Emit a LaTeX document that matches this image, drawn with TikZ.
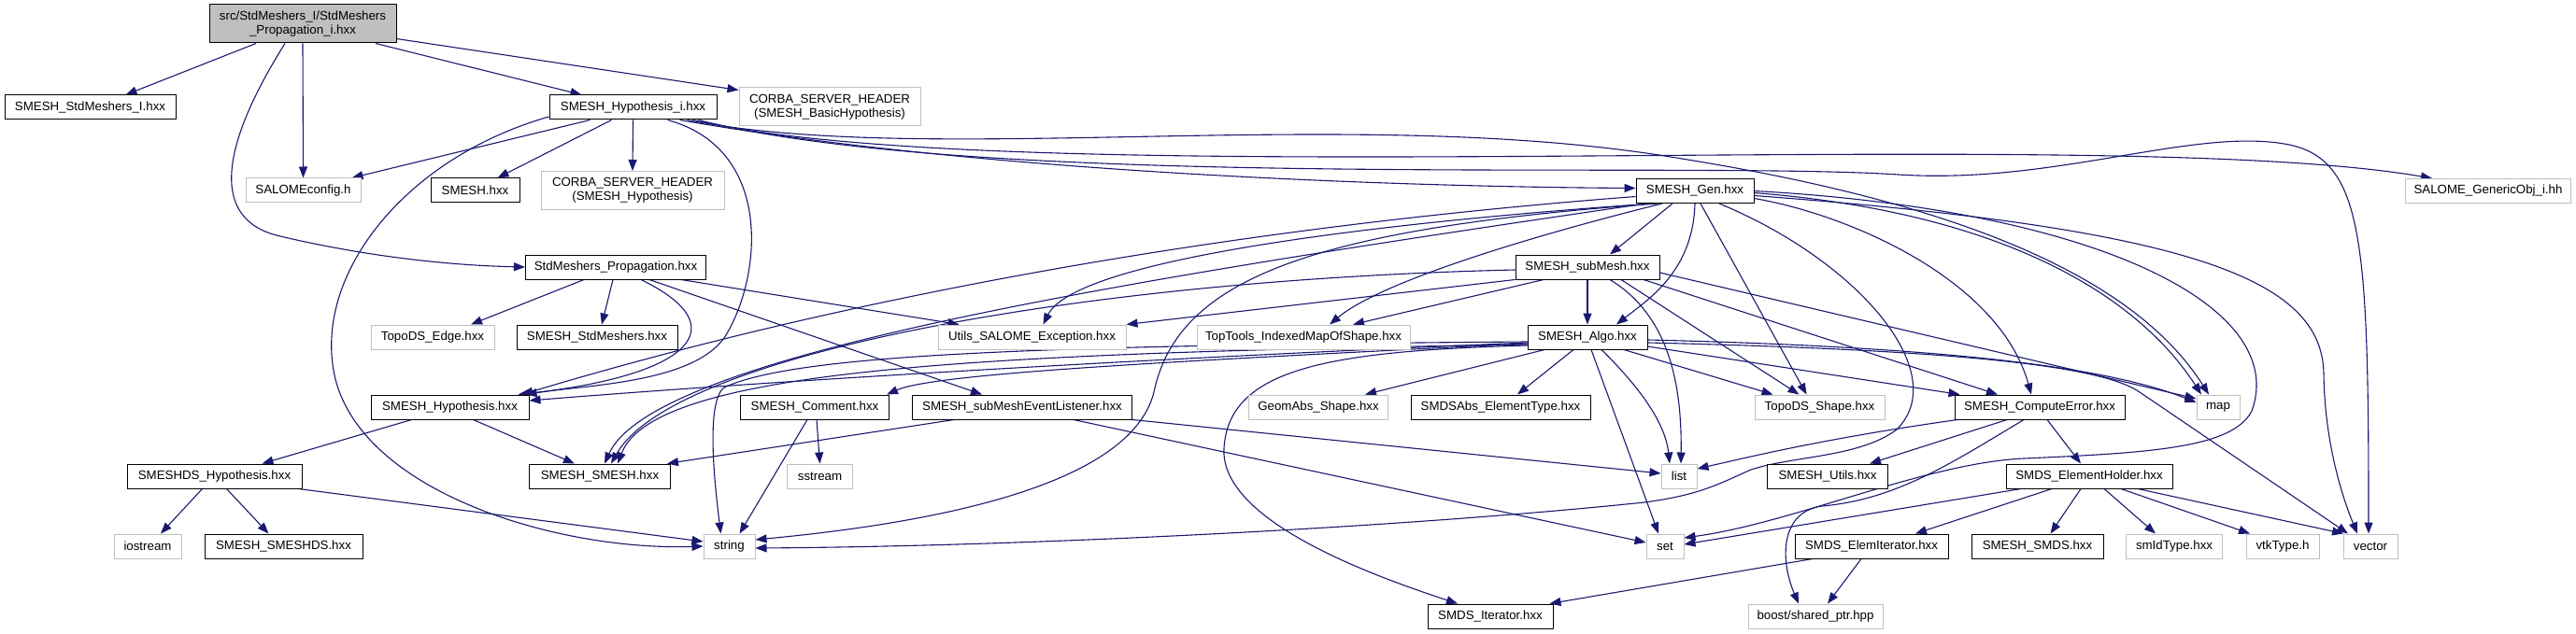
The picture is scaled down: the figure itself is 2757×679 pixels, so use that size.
\documentclass[tikz,border=0pt]{standalone}
\usepackage{fontspec}
\newfontfamily\dotfont{Liberation Sans}
\usetikzlibrary{arrows.meta,backgrounds}
\definecolor{edgeblue}{HTML}{191970}
\definecolor{grey75}{HTML}{BFBFBF}
\tikzset{
  file/.style={draw=black, line width=1pt, fill=white, inner sep=0pt, minimum height=26,
    align=center, font={\dotfont\fontsize{13.3}{15}\selectfont}},
  sysfile/.style={file, draw=grey75},
  dep/.style={draw=edgeblue, line width=1.1pt, -{Triangle[length=12pt,width=9pt]}},
}
\begin{document}
\begin{tikzpicture}[x=1pt, y=-1pt]
            \useasboundingbox (0,0) rectangle (2757,679);
            \node[file, fill=grey75, minimum width=200, minimum height=41] (root) at (324,25.5) {src/StdMeshers\_I/StdMeshers\\\_Propagation\_i.hxx};
            \node[file, minimum width=183] (smi) at (96.5,115) {SMESH\_StdMeshers\_I.hxx};
            \node[file, minimum width=179] (hypi) at (677.5,115) {SMESH\_Hypothesis\_i.hxx};
            \node[sysfile, minimum width=194, minimum height=41] (corbabh) at (888,114.5) {CORBA\_SERVER\_HEADER\\(SMESH\_BasicHypothesis)};
            \node[sysfile, minimum width=123] (salcfg) at (324.5,204) {SALOMEconfig.h};
            \node[file, minimum width=95] (smesh) at (508.5,204) {SMESH.hxx};
            \node[sysfile, minimum width=196, minimum height=41] (corbah) at (677,204) {CORBA\_SERVER\_HEADER\\(SMESH\_Hypothesis)};
            \node[file, minimum width=126] (gen) at (1814,204.5) {SMESH\_Gen.hxx};
            \node[sysfile, minimum width=177] (genobj) at (2663,204.5) {SALOME\_GenericObj\_i.hh};
            \node[file, minimum width=193] (prop) at (659,286) {StdMeshers\_Propagation.hxx};
            \node[file, minimum width=154] (submesh) at (1699,286) {SMESH\_subMesh.hxx};
            \node[sysfile, minimum width=132] (topoedge) at (463,361) {TopoDS\_Edge.hxx};
            \node[file, minimum width=172] (stdmesh) at (639,361) {SMESH\_StdMeshers.hxx};
            \node[sysfile, minimum width=201] (utilsexc) at (1104.5,361) {Utils\_SALOME\_Exception.hxx};
            \node[sysfile, minimum width=228] (toptools) at (1395,361) {TopTools\_IndexedMapOfShape.hxx};
            \node[file, minimum width=128] (algo) at (1699,361) {SMESH\_Algo.hxx};
            \node[file, minimum width=169] (hyp) at (481.5,436) {SMESH\_Hypothesis.hxx};
            \node[file, minimum width=159] (comment) at (872,436) {SMESH\_Comment.hxx};
            \node[file, minimum width=235] (listener) at (1094,436) {SMESH\_subMeshEventListener.hxx};
            \node[sysfile, minimum width=149] (geomabs) at (1411,436) {GeomAbs\_Shape.hxx};
            \node[file, minimum width=192] (elemtype) at (1606,436) {SMDSAbs\_ElementType.hxx};
            \node[sysfile, minimum width=139] (toposhape) at (1947.5,436) {TopoDS\_Shape.hxx};
            \node[file, minimum width=182] (comperr) at (2183,436) {SMESH\_ComputeError.hxx};
            \node[sysfile, minimum width=46] (stdmap) at (2374,436) {map};
            \node[file, minimum width=187] (dshyp) at (229.5,510) {SMESHDS\_Hypothesis.hxx};
            \node[file, minimum width=151] (smeshmesh) at (642,510) {SMESH\_SMESH.hxx};
            \node[sysfile, minimum width=70] (sstream) at (877.5,510) {sstream};
            \node[sysfile, minimum width=38] (stdlist) at (1797,510) {list};
            \node[file, minimum width=129] (utilsh) at (1956,510) {SMESH\_Utils.hxx};
            \node[file, minimum width=178] (holder) at (2236,510) {SMDS\_ElementHolder.hxx};
            \node[sysfile, minimum width=72] (iostream) at (158,585) {iostream};
            \node[file, minimum width=169] (smeshds) at (303.5,585) {SMESH\_SMESHDS.hxx};
            \node[sysfile, minimum width=55] (stdstring) at (780.5,585) {string};
            \node[sysfile, minimum width=40] (stdset) at (1782,585) {set};
            \node[file, minimum width=164] (elemit) at (2003,585) {SMDS\_ElemIterator.hxx};
            \node[file, minimum width=141] (smds) at (2180.5,585) {SMESH\_SMDS.hxx};
            \node[sysfile, minimum width=103] (smid) at (2327,585) {smIdType.hxx};
            \node[sysfile, minimum width=78] (vtktype) at (2443,585) {vtkType.h};
            \node[sysfile, minimum width=58] (stdvector) at (2537,585) {vector};
            \node[file, minimum width=134] (iter) at (1595,660) {SMDS\_Iterator.hxx};
            \node[sysfile, minimum width=144] (boostptr) at (1943,660) {boost/shared\_ptr.hpp};
            \begin{scope}[on background layer]
            \draw[dep] ([xshift=-50]root.south) -- ([xshift=38]smi.north);
            \draw[dep] (root.south) -- (salcfg.north);
            \draw[dep] ([xshift=78]root.south) -- ([xshift=-55]hypi.north);
            \draw[dep] ([yshift=5]root.south east) -- ([yshift=-3]corbabh.north west);
            \draw[dep] ([xshift=-19]root.south) .. controls (240,150) and (220,235) .. (300,253) .. controls (380,272) and (470,284) .. (prop.west);
            \draw[dep] ([xshift=-46]hypi.south) -- ([xshift=52]salcfg.north);
            \draw[dep] ([xshift=-23]hypi.south) -- ([xshift=24]smesh.north);
            \draw[dep] (hypi.south) -- (corbah.north);
            \draw[dep] ([xshift=37]hypi.south) .. controls (830,160) and (815,300) .. (775,362) .. controls (740,410) and (630,412) .. ([xshift=-4]hyp.north east);
            \draw[dep] ([yshift=-10]hypi.west) .. controls (430,170) and (330,300) .. (360,410) .. controls (395,530) and (600,590) .. (stdstring.west);
            \draw[dep] ([xshift=50]hypi.south) .. controls (1050,185) and (1500,200) .. ([yshift=3]gen.west);
            \draw[dep] ([xshift=58]hypi.south) .. controls (1000,180) and (1450,110) .. (1800,170) .. controls (2080,215) and (2280,290) .. ([xshift=-10]stdmap.north);
            \draw[dep] ([xshift=64]hypi.south) .. controls (1100,210) and (2250,130) .. ([xshift=-60]genobj.north);
            \draw[dep] ([xshift=70]hypi.south) .. controls (1050,205) and (1800,172) .. (2032,187) .. controls (2200,198) and (2350,135) .. (2450,155) .. controls (2530,172) and (2535,260) .. ([xshift=-2]stdvector.north);
            \draw[dep] ([xshift=-34]prop.south) -- ([xshift=41]topoedge.north);
            \draw[dep] ([xshift=-3]prop.south) -- ([xshift=5]stdmesh.north);
            \draw[dep] ([xshift=27]prop.south) .. controls (790,350) and (740,402) .. ([xshift=-12]hyp.north east);
            \draw[dep] ([xshift=70]prop.south) -- ([xshift=-78]utilsexc.north);
            \draw[dep] ([xshift=36]prop.south) -- ([xshift=-43]listener.north);
            \draw[dep] ([yshift=-6]gen.west) .. controls (1300,245) and (900,320) .. ([xshift=-8]hyp.north east);
            \draw[dep] ([xshift=-52]gen.south) .. controls (1200,300) and (700,380) .. ([xshift=5]smeshmesh.north);
            \draw[dep] ([xshift=-40]gen.south) .. controls (1400,245) and (1260,300) .. (1235,420) .. controls (1210,520) and (1000,560) .. ([yshift=7]stdstring.east);
            \draw[dep] ([xshift=-45]gen.south) .. controls (1450,240) and (1150,280) .. ([xshift=12]utilsexc.north);
            \draw[dep] ([xshift=-35]gen.south) .. controls (1650,250) and (1480,300) .. ([xshift=28]toptools.north);
            \draw[dep] ([xshift=-24]gen.south) -- ([xshift=24]submesh.north);
            \draw[dep] (gen.south) .. controls (1812,290) and (1765,320) .. ([xshift=31]algo.north);
            \draw[dep] ([xshift=6]gen.south) -- ([xshift=-14]toposhape.north);
            \draw[dep] ([xshift=26]gen.south) .. controls (1990,280) and (2090,400) .. (2030,460) .. controls (1990,490) and (1920,488) .. (1874,503) .. controls (1840,518) and (1820,530) .. (1760,538) .. controls (1500,565) and (1100,585) .. ([yshift=-2]stdstring.east);
            \draw[dep] ([yshift=-8]gen.east) .. controls (1980,230) and (2140,300) .. ([xshift=-9]comperr.north);
            \draw[dep] ([yshift=-2]gen.east) .. controls (2150,228) and (2290,320) .. ([xshift=-18]stdmap.north);
            \draw[dep] ([yshift=-5]gen.east) .. controls (2350,245) and (2485,300) .. (2487,400) .. controls (2488,480) and (2510,540) .. ([xshift=-14]stdvector.north);
            \draw[dep] (gen.east) .. controls (2250,225) and (2450,330) .. (2410,440) .. controls (2390,480) and (2300,485) .. (2166,491) .. controls (2060,496) and (1920,560) .. ([yshift=9]stdset.east);
            \draw[dep] ([yshift=-3]submesh.west) .. controls (1150,300) and (720,380) .. ([xshift=12]smeshmesh.north);
            \draw[dep] (submesh.south west) -- (utilsexc.north east);
            \draw[dep] ([xshift=-47]submesh.south) -- ([xshift=53]toptools.north);
            \draw[dep] (submesh.south) -- (algo.north);
            \draw[dep] ([xshift=24]submesh.south) .. controls (1790,340) and (1800,420) .. ([xshift=2]stdlist.north);
            \draw[dep] ([xshift=36]submesh.south) -- ([xshift=-22]toposhape.north);
            \draw[dep] ([xshift=60]submesh.south) -- ([xshift=-45]comperr.north);
            \draw[dep] ([yshift=-6]submesh.east) -- ([yshift=9]stdmap.west);
            \draw[dep] ([yshift=-6]algo.west) .. controls (1200,385) and (800,410) .. ([yshift=7]hyp.east);
            \draw[dep] ([yshift=-7]algo.west) .. controls (1250,387) and (1000,400) .. ([xshift=-3]comment.north east);
            \draw[dep] ([yshift=-8]algo.west) .. controls (1050,378) and (700,395) .. ([xshift=19]smeshmesh.north);
            \draw[dep] ([yshift=-5]algo.west) .. controls (1100,370) and (850,380) .. (775,415) .. controls (755,430) and (765,520) .. ([xshift=-9]stdstring.north);
            \draw[dep] ([yshift=-9]algo.west) .. controls (1420,376) and (1315,395) .. (1310,480) .. controls (1305,560) and (1480,620) .. ([xshift=-35]iter.north);
            \draw[dep] ([xshift=-46]algo.south) -- ([xshift=50]geomabs.north);
            \draw[dep] ([xshift=-15]algo.south) -- ([xshift=18]elemtype.north);
            \draw[dep] ([xshift=4]algo.south) -- ([xshift=-7]stdset.north);
            \draw[dep] ([xshift=15]algo.south) .. controls (1750,410) and (1782,450) .. ([xshift=-10]stdlist.north);
            \draw[dep] ([xshift=39]algo.south) -- ([xshift=-50]toposhape.north);
            \draw[dep] ([yshift=-10]algo.east) -- ([xshift=6]comperr.north west);
            \draw[dep] ([yshift=-3]algo.east) .. controls (2100,372) and (2260,395) .. ([yshift=5]stdmap.west);
            \draw[dep] ([yshift=-6]algo.east) .. controls (2100,375) and (2250,392) .. (2290,420) -- ([xshift=-24]stdvector.north);
            \draw[dep] ([xshift=-73]listener.south) -- ([xshift=-4]smeshmesh.north east);
            \draw[dep] ([xshift=55]listener.south) -- ([yshift=4]stdset.west);
            \draw[dep] (listener.south east) -- ([yshift=3]stdlist.west);
            \draw[dep] ([xshift=-41]hyp.south) -- ([xshift=51]dshyp.north);
            \draw[dep] ([xshift=25]hyp.south) -- ([xshift=-27]smeshmesh.north);
            \draw[dep] ([xshift=2]comment.south) -- (sstream.north);
            \draw[dep] ([xshift=-8]comment.south) -- ([xshift=11]stdstring.north);
            \draw[dep] ([xshift=-13]dshyp.south) -- ([xshift=14]iostream.north);
            \draw[dep] ([xshift=13]dshyp.south) -- ([xshift=-16]smeshds.north);
            \draw[dep] ([xshift=90]dshyp.south) -- ([yshift=5]stdstring.west);
            \draw[dep] ([xshift=-88]comperr.south) .. controls (1950,470) and (1870,490) .. ([yshift=8]stdlist.east);
            \draw[dep] ([xshift=-35]comperr.south) -- ([xshift=45]utilsh.north);
            \draw[dep] ([xshift=8]comperr.south) -- ([xshift=-9]holder.north);
            \draw[dep] ([xshift=-17]comperr.south) .. controls (2090,495) and (2030,535) .. (1950,542) .. controls (1905,548) and (1905,600) .. ([xshift=-18]boostptr.north);
            \draw[dep] ([xshift=-73]holder.south) -- ([yshift=2]stdset.east);
            \draw[dep] ([xshift=-40]holder.south) -- ([xshift=47]elemit.north);
            \draw[dep] ([xshift=-9]holder.south) -- ([xshift=14]smds.north);
            \draw[dep] ([xshift=16]holder.south) -- ([xshift=-20]smid.north);
            \draw[dep] ([xshift=34]holder.south) -- ([xshift=-35]vtktype.north);
            \draw[dep] ([xshift=52]holder.south) -- ([xshift=-29]stdvector.north);
            \draw[dep] ([xshift=-11]elemit.south) -- ([xshift=13]boostptr.north);
            \draw[dep] ([xshift=-63]elemit.south) -- ([xshift=-4]iter.north east);
            \end{scope}
        \end{tikzpicture}
\end{document}
